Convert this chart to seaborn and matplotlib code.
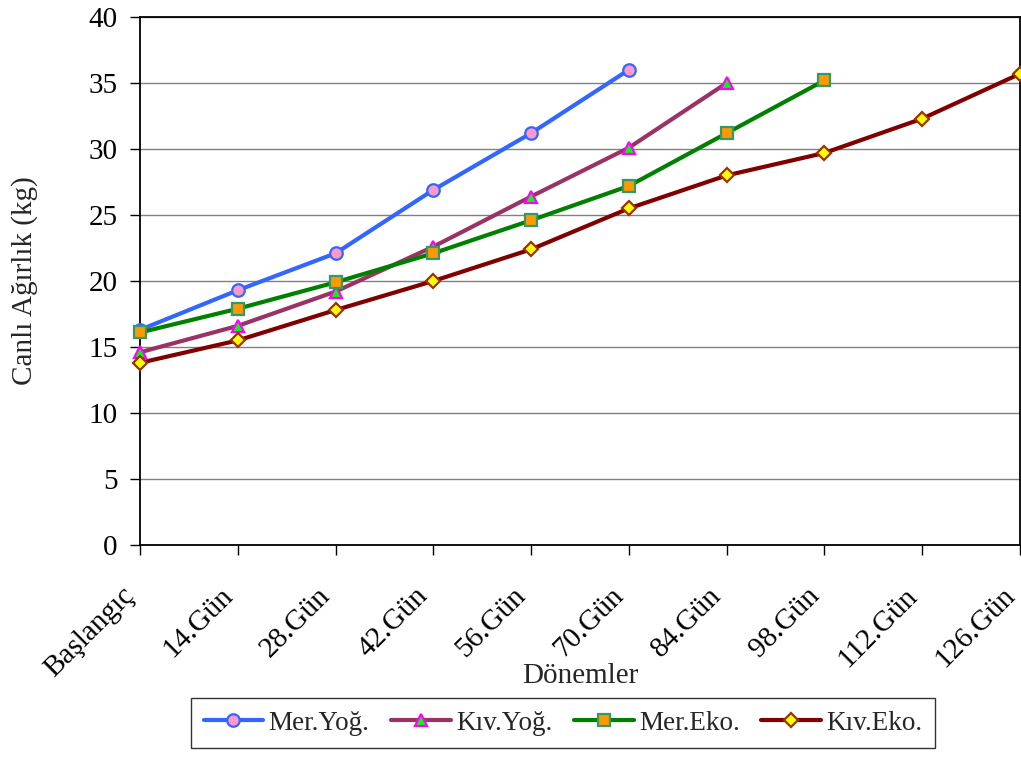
import numpy as np
import pandas as pd
import matplotlib
matplotlib.use("Agg")
import matplotlib.pyplot as plt
import seaborn as sns

# data
PERIODS = ["Başlangıç", "14.Gün", "28.Gün", "42.Gün", "56.Gün",
           "70.Gün", "84.Gün", "98.Gün", "112.Gün", "126.Gün"]
MER_YOG = [16.3, 19.3, 22.1, 26.9, 31.2, 36.0]
KIV_YOG = [14.6, 16.6, 19.2, 22.6, 26.4, 30.1, 35.0]
MER_EKO = [16.1, 17.9, 19.9, 22.1, 24.6, 27.2, 31.2, 35.2]
KIV_EKO = [13.8, 15.5, 17.8, 20.0, 22.4, 25.5, 28.0, 29.7, 32.3, 35.7]

SERIES = [
    # name, values, line colour, marker, face, edge
    ("Mer.Yoğ.", MER_YOG, "#3366FF", "o", "#FF99CC", "#3366FF"),
    ("Kıv.Yoğ.", KIV_YOG, "#993366", "^", "#00FF00", "#FF00FF"),
    ("Mer.Eko.", MER_EKO, "#008000", "s", "#FF9900", "#339966"),
    ("Kıv.Eko.", KIV_EKO, "#800000", "D", "#FFFF00", "#993300"),
]

sns.set_style("white")
plt.rcParams["font.family"] = ["Liberation Serif", "DejaVu Serif"]

fig = plt.figure(figsize=(10.21, 7.57), dpi=100)
ax = fig.add_axes([140 / 1021, 1 - 545 / 757, 880 / 1021, 528 / 757])

for name, vals, lc, mk, fc, ec in SERIES:
    df = pd.DataFrame({"x": np.arange(len(vals)), "y": vals})
    sns.lineplot(data=df, x="x", y="y", ax=ax, color=lc, linewidth=3,
                 marker=mk, markersize=9 if mk != "D" else 7.5,
                 markerfacecolor=fc, markeredgecolor=ec, markeredgewidth=1.6,
                 label=name, clip_on=False, zorder=3)

ax.set_xlim(0, len(PERIODS) - 1)
ax.set_ylim(0, 40)
ax.set_yticks(np.arange(0, 41, 5))
ax.set_xticks(np.arange(len(PERIODS)))
ax.set_xticklabels(PERIODS, rotation=45, ha="right")
ax.tick_params(axis="both", labelsize=21, direction="out", length=7,
               width=1, colors="black", left=True, bottom=True)
ax.tick_params(axis="x", pad=20)
ax.tick_params(axis="y", pad=9)
ax.yaxis.grid(True, color="#808080", linewidth=1)
ax.xaxis.grid(False)
ax.set_axisbelow(True)
for side in ["left", "bottom", "right", "top"]:
    ax.spines[side].set_visible(True)
    ax.spines[side].set_color("black")
    ax.spines[side].set_linewidth(1.3)

ax.set_xlabel("Dönemler", fontsize=21, va="center")
ax.xaxis.set_label_coords(0.5, (545 - 676) / 528)
ax.set_ylabel("Canlı Ağırlık (kg)", fontsize=21, va="center")
ax.yaxis.set_label_coords((25 - 140) / 880, 0.5)

leg = ax.legend(loc="center", bbox_to_anchor=(563 / 1021, 1 - 723 / 757),
                bbox_transform=fig.transFigure, ncol=4, fontsize=19.5,
                frameon=True, fancybox=False, edgecolor="black",
                handlelength=2.2, handletextpad=0.2, columnspacing=0.8,
                borderpad=0.45)
leg.get_frame().set_linewidth(1)

fig.savefig("out.png", dpi=100)
